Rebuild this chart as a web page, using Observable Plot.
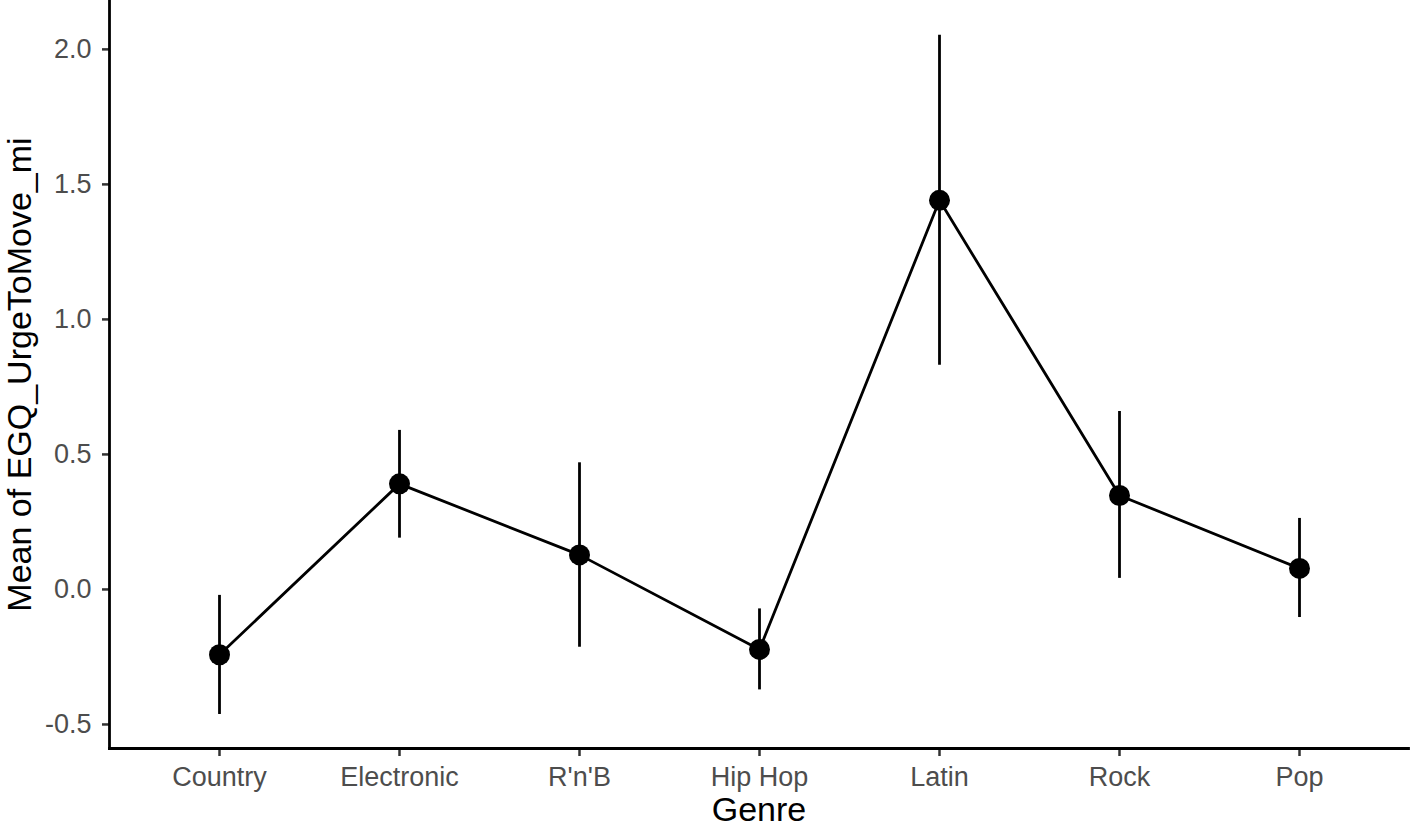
<!DOCTYPE html>
<html>
<head>
<meta charset="utf-8">
<script src="https://cdn.jsdelivr.net/npm/d3@7"></script>
<script src="https://cdn.jsdelivr.net/npm/@observablehq/plot@0.6"></script>
<style>
  html, body { margin: 0; padding: 0; background: #fff; }
  #chart svg { display: block; }
</style>
</head>
<body>
<div id="chart"></div>
<script>
const genres = ["Country", "Electronic", "R'n'B", "Hip Hop", "Latin", "Rock", "Pop"];
const means  = [-0.242, 0.391, 0.128, -0.222, 1.441, 0.348, 0.078];
const lowers = [-0.463, 0.190, -0.214, -0.372, 0.830, 0.041, -0.104];
const uppers = [-0.022, 0.589, 0.469, -0.072, 2.052, 0.659, 0.263];
const yTicks = [-0.5, 0.0, 0.5, 1.0, 1.5, 2.0];
const xTitle = "Genre";
const yTitle = "Mean of EGQ_UrgeToMove_mi";

const data = genres.map((g, i) => ({genre: g, mean: means[i], lo: lowers[i], hi: uppers[i]}));

const chart = Plot.plot({
  width: 1417,
  height: 835,
  marginLeft: 109,
  marginRight: 9,
  marginTop: 0,
  marginBottom: 87,
  style: {fontFamily: "'Liberation Sans', Arial, sans-serif", background: "#fff"},
  x: {type: "point", domain: genres, padding: 0.6},
  y: {domain: [-0.589, 2.181]},
  marks: [
    Plot.axisY({ticks: yTicks, tickFormat: d => d.toFixed(1), tickSize: 7, tickPadding: 11,
      fontSize: 27, color: "#4D4D4D", stroke: "#333333", strokeWidth: 2.5, label: null}),
    Plot.axisX({tickSize: 8, tickPadding: 10, fontSize: 27, color: "#4D4D4D",
      stroke: "#333333", strokeWidth: 2.5, label: null}),
    Plot.frame({anchor: "left", stroke: "#000", strokeWidth: 2.8}),
    Plot.frame({anchor: "bottom", stroke: "#000", strokeWidth: 2.8}),
    Plot.ruleX(data, {x: "genre", y1: "lo", y2: "hi", stroke: "#000", strokeWidth: 2.8}),
    Plot.line(data, {x: "genre", y: "mean", stroke: "#000", strokeWidth: 2.8}),
    Plot.dot(data, {x: "genre", y: "mean", r: 10.5, fill: "#000", stroke: "none"}),
    Plot.text([xTitle], {frameAnchor: "bottom", text: d => d, dy: 62, lineAnchor: "middle",
      textAnchor: "middle", fontSize: 34, fill: "#000"}),
    Plot.text([yTitle], {frameAnchor: "left", text: d => d, dx: -89, rotate: -90, lineAnchor: "middle",
      textAnchor: "middle", fontSize: 34, fill: "#000"})
  ]
});
document.getElementById("chart").appendChild(chart);
</script>
</body>
</html>
